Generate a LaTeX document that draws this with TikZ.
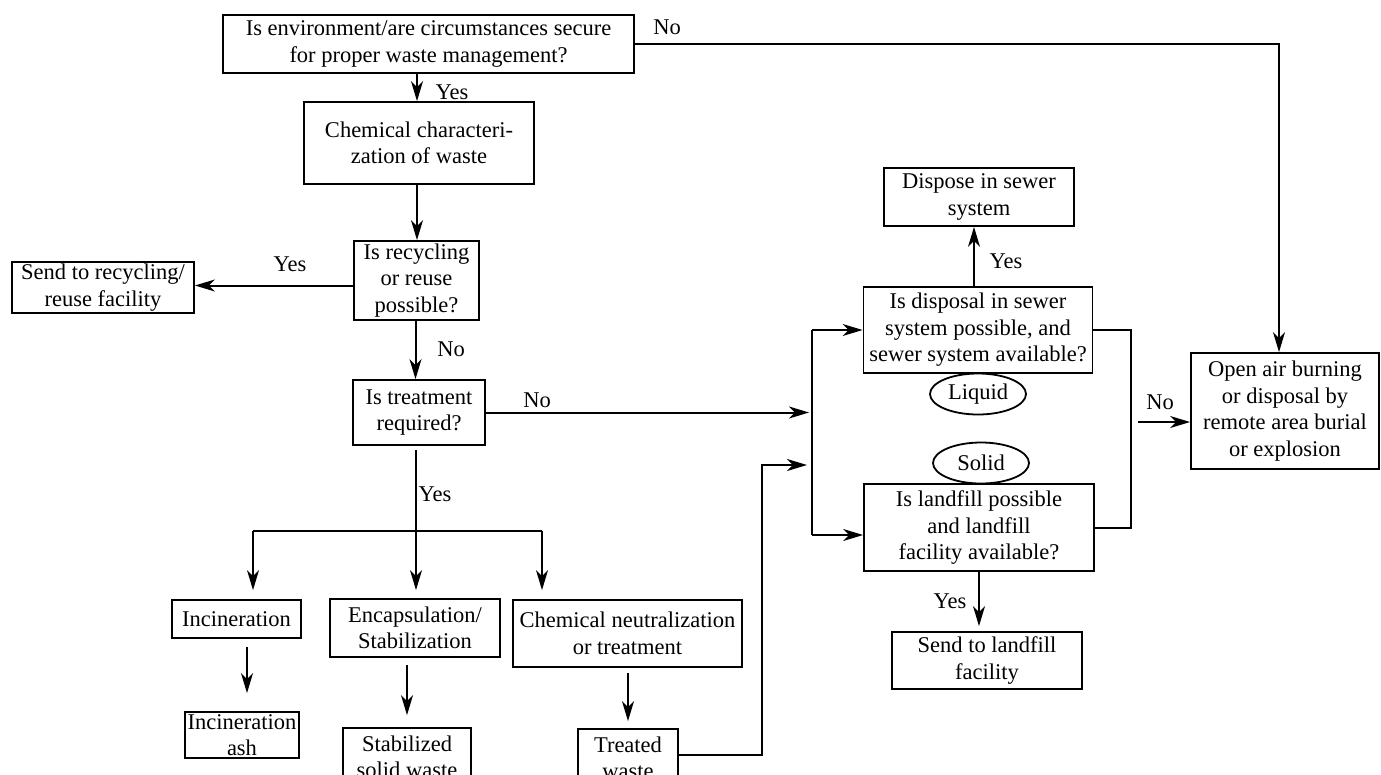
\documentclass[tikz,border=0pt]{standalone}
\usepackage{fontspec}
\setmainfont{Liberation Serif}
\usetikzlibrary{arrows.meta,shapes.geometric}
\newcommand\diafont{\fontsize{22.5}{26.5}\selectfont}
\begin{document}
\begin{tikzpicture}[x=1pt,y=-1pt,
  box/.style={draw, line width=1.8pt, inner sep=0pt, align=center, font=\diafont},
  ell/.style={draw, ellipse, line width=1.8pt, inner sep=0pt, font=\diafont},
  lbl/.style={inner sep=0pt, font=\diafont},
  conn/.style={line width=2pt},
  arr/.style={line width=2pt, -{Stealth[length=20pt,width=12pt,inset=6pt]}}]
\useasboundingbox (0,0) rectangle (1381,774);
\clip (0,0) rectangle (1381,774);
\fill[white] (0,0) rectangle (1381,774);

% boxes
\node[box, minimum width=411pt, minimum height=58pt] (top) at (428.5,44) {Is environment/are circumstances secure\\for proper waste management?};
\node[box, minimum width=230pt, minimum height=82pt] (chem) at (419,143) {Chemical characteri-\\zation of waste};
\node[box, minimum width=125pt, minimum height=79pt] (recyc) at (416.5,280.5) {Is recycling\\or reuse\\possible?};
\node[box, minimum width=182pt, minimum height=51pt] (send) at (103,287.5) {Send to recycling/\\reuse facility};
\node[box, minimum width=132pt, minimum height=65pt] (treat) at (419,412.5) {Is treatment\\required?};
\node[box, minimum width=129pt, minimum height=38pt] (incin) at (236.5,619) {Incineration};
\node[box, minimum width=170pt, minimum height=58pt] (encap) at (415,628) {Encapsulation/\\Stabilization};
\node[box, minimum width=229pt, minimum height=67pt] (chemneut) at (627.5,633.5) {Chemical neutralization\\or treatment};
\node[box, minimum width=114pt, minimum height=46pt] (ash) at (242,735) {Incineration\\ash};
\node[box, minimum width=128pt, minimum height=58pt] (stab) at (407,757) {Stabilized\\solid waste};
\node[box, minimum width=100pt, minimum height=58pt] (treated) at (628,758) {Treated\\waste};
\node[box, minimum width=190pt, minimum height=58pt] (dispose) at (979,197) {Dispose in sewer\\system};
\node[box, minimum width=229pt, minimum height=86pt] (sewer) at (978,330) {Is disposal in sewer\\system possible, and\\sewer system available?};
\node[ell, minimum width=96pt, minimum height=41pt] (liquid) at (978,394) {Liquid};
\node[ell, minimum width=96pt, minimum height=41pt] (solid) at (981,463) {Solid};
\node[box, minimum width=230pt, minimum height=87pt] (landfill) at (979,527.5) {Is landfill possible\\and landfill\\facility available?};
\node[box, minimum width=190pt, minimum height=57pt] (sendland) at (987,660.5) {Send to landfill\\facility};
\node[box, minimum width=188pt, minimum height=116pt] (open) at (1285,411) {Open air burning\\or disposal by\\remote area burial\\or explosion};

% labels
\node[lbl] (lNo1) at (667,27) {No};
\node[lbl] (lYes1) at (452,92) {Yes};
\node[lbl] (lYes2) at (290,264) {Yes};
\node[lbl] (lNo2) at (451,349) {No};
\node[lbl] (lNo3) at (537,400) {No};
\node[lbl] (lYes3) at (435,494) {Yes};
\node[lbl] (lYes4) at (1006,261) {Yes};
\node[lbl] (lYes5) at (950,601) {Yes};
\node[lbl] (lNo4) at (1160,402) {No};

% coordinates
\coordinate (cTopR) at (1279,43);
\coordinate (barT) at (812,330);
\coordinate (barB) at (812,535);
\coordinate (tw1) at (762,755);
\coordinate (tw2) at (762,465);
\coordinate (rr) at (1131,330);
\coordinate (noS) at (1138,422);
\coordinate (brL) at (253,531);
\coordinate (brR) at (542,531);

% connectors
\draw[arr] (top.east) -- (top.east -| cTopR) -- (cTopR |- open.north);
\draw[arr] ([xshift=-2pt]chem.north |- top.south) -- ([xshift=-2pt]chem.north);
\draw[arr] ([xshift=-2pt]chem.south) -- ([xshift=-2pt]chem.south |- recyc.north);
\draw[arr] ([yshift=-5pt]recyc.west) -- ([yshift=-5pt]recyc.west -| send.east);
\draw[arr] ([xshift=-1pt]recyc.south) -- ([xshift=-1pt]recyc.south |- treat.north);
\draw[arr, shorten >=3pt] (treat.east) -- (treat.east -| barT);
\draw[conn] (barT) -- (barB);
\draw[arr] (barT) -- (barT -| sewer.west);
\draw[arr] (barB) -- (barB -| landfill.west);
\draw[arr, shorten >=5pt] (treated.east |- tw1) -- (tw1) -- (tw2) -- (tw2 -| barT);
\draw[arr] ([xshift=-4pt]sewer.north) -- ([xshift=-4pt]sewer.north |- dispose.south);
\draw[conn] (sewer.east) -- (sewer.east -| rr) -- (rr |- landfill.east) -- (landfill.east);
\draw[arr] (noS) -- (noS -| open.west);
\draw[arr, shorten >=5pt] (landfill.south) -- (landfill.south |- sendland.north);
\draw[conn] (brL) -- (brR);
\draw[arr, shorten <=4pt, shorten >=8pt] ([xshift=-3pt]treat.south) -- ([xshift=-3pt]treat.south |- encap.north);
\draw[arr, shorten >=9pt] (brL) -- (brL |- incin.north);
\draw[arr, shorten >=9pt] (brR) -- (brR |- chemneut.north);
\draw[arr, shorten <=8pt, shorten >=18pt] ([xshift=5pt]ash.north |- incin.south) -- ([xshift=5pt]ash.north);
\draw[arr, shorten <=7pt, shorten >=12pt] (stab.north |- encap.south) -- (stab.north);
\draw[arr, shorten <=5pt, shorten >=7pt] (treated.north |- chemneut.south) -- (treated.north);
\end{tikzpicture}
\end{document}
